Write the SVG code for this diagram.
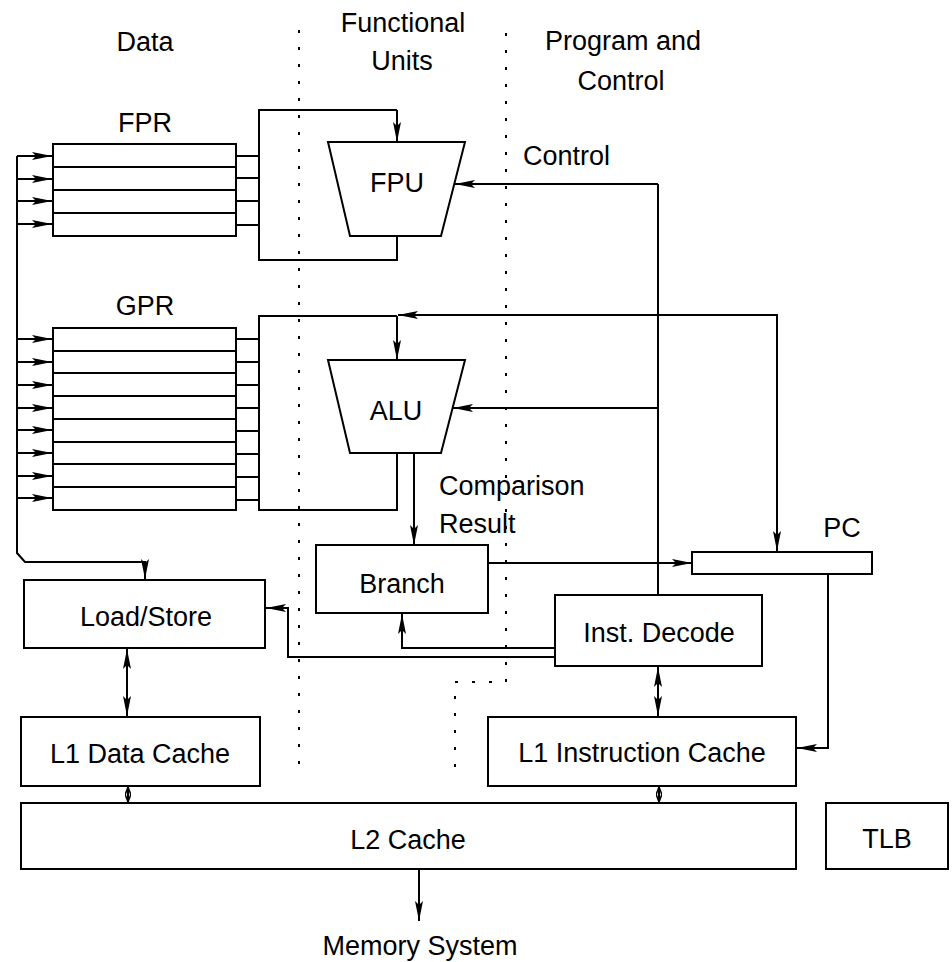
<svg xmlns="http://www.w3.org/2000/svg" width="952" height="962" viewBox="0 0 952 962">
<style>
text{font-family:"Liberation Sans",Arial,sans-serif;font-size:27px;fill:#000}
.c{text-anchor:middle}
.box{fill:#fff;stroke:#000;stroke-width:2}
.ln{fill:none;stroke:#000;stroke-width:2}
.dot{fill:none;stroke:#000;stroke-width:2;stroke-dasharray:3 14}
.a{marker-end:url(#ah)}
.aa{marker-start:url(#ah);marker-end:url(#ah)}
.ss{marker-start:url(#as);marker-end:url(#as)}
</style>
<defs>
<marker id="ah" viewBox="0 0 20 8" refX="20" refY="4" markerWidth="20" markerHeight="8" markerUnits="userSpaceOnUse" orient="auto-start-reverse"><path d="M0,0 L20,4 L0,8 L4,4 z" fill="#000"/></marker>
<marker id="as" viewBox="0 0 8 6" refX="8" refY="3" markerWidth="8" markerHeight="6" markerUnits="userSpaceOnUse" orient="auto-start-reverse"><path d="M0,0 L8,3 L0,6" fill="none" stroke="#000" stroke-width="1.5"/></marker>
</defs>
<rect width="952" height="962" fill="#fff"/>

<g id="column-dividers">
<path class="dot" d="M299,30 V778"/>
<path class="dot" d="M506,33 V682 H455 V778"/>
</g>

<g id="headers">
<text class="c" x="145" y="51">Data</text>
<text class="c" x="403" y="32">Functional</text>
<text class="c" x="402" y="70">Units</text>
<text class="c" x="623" y="50">Program and</text>
<text class="c" x="621" y="90">Control</text>
</g>

<g id="connectors">
<!-- register bus -->
<path class="ln a" d="M17,156 V553 L25,562 H145 V579"/>
<path class="ln a" d="M17,156 H52"/>
<path class="ln a" d="M17,179 H52"/>
<path class="ln a" d="M17,201 H52"/>
<path class="ln a" d="M17,224 H52"/>
<path class="ln a" d="M17,339 H52"/>
<path class="ln a" d="M17,362 H52"/>
<path class="ln a" d="M17,385 H52"/>
<path class="ln a" d="M17,408 H52"/>
<path class="ln a" d="M17,430 H52"/>
<path class="ln a" d="M17,453 H52"/>
<path class="ln a" d="M17,476 H52"/>
<path class="ln a" d="M17,498 H52"/>
<!-- FPR stubs and FPU wiring -->
<path class="ln" d="M236,156 H259 M236,178 H259 M236,201 H259 M236,225 H259"/>
<path class="ln" d="M397,236 V260 H259 V110 H397"/>
<path class="ln a" d="M397,110 V142"/>
<!-- GPR stubs and ALU wiring -->
<path class="ln" d="M236,339 H259 M236,362 H259 M236,385 H259 M236,408 H259 M236,431 H259 M236,454 H259 M236,477 H259 M236,500 H259"/>
<path class="ln" d="M397,453 V510 H259 V316 H397"/>
<path class="ln a" d="M397,316 V360"/>
<!-- PC feedback -->
<path class="ln aa" d="M398,315 H777 V551"/>
<!-- control -->
<path class="ln" d="M658,595 V184"/>
<path class="ln a" d="M658,184 H455"/>
<path class="ln a" d="M658,408 H453"/>
<!-- comparison result -->
<path class="ln a" d="M414,453 V545"/>
<!-- branch to PC -->
<path class="ln a" d="M488,563 H692"/>
<!-- inst decode to branch -->
<path class="ln a" d="M555,648 H402 V614"/>
<!-- inst decode to load/store -->
<path class="ln a" d="M555,657 H288 V608 H266"/>
<!-- PC to L1 I-cache -->
<path class="ln a" d="M828,574 V748 H797"/>
<!-- load/store <-> L1 data -->
<path class="ln aa" d="M127,649 V716"/>
<!-- inst decode <-> L1 instr -->
<path class="ln aa" d="M658,667 V716"/>
<!-- L1 <-> L2 -->
<path class="ln ss" d="M128,787 V802"/>
<path class="ln ss" d="M659,787 V802"/>
<!-- L2 to memory -->
<path class="ln a" d="M419,869 V921"/>
</g>

<g id="fpr">
<text class="c" x="145" y="132">FPR</text>
<rect class="box" x="53" y="144" width="183" height="92"/>
<path class="ln" d="M53,167 H236 M53,190 H236 M53,213 H236"/>
</g>

<g id="gpr">
<text class="c" x="145" y="315">GPR</text>
<rect class="box" x="53" y="328" width="183" height="182"/>
<path class="ln" d="M53,351 H236 M53,373 H236 M53,396 H236 M53,419 H236 M53,442 H236 M53,464 H236 M53,487 H236"/>
</g>

<g id="fpu">
<polygon class="box" points="328,142 465,142 441,236 350,236"/>
<text class="c" x="397" y="192">FPU</text>
</g>

<g id="control-label">
<text x="523" y="165">Control</text>
</g>

<g id="alu">
<polygon class="box" points="328,360 465,360 441,453 350,453"/>
<text class="c" x="396" y="420">ALU</text>
</g>

<g id="comparison-label">
<text x="439" y="495">Comparison</text>
<text x="439" y="533">Result</text>
</g>

<g id="branch">
<rect class="box" x="316" y="545" width="172" height="68"/>
<text class="c" x="402" y="593">Branch</text>
</g>

<g id="pc">
<text class="c" x="842" y="537">PC</text>
<rect class="box" x="692" y="552" width="180" height="22"/>
</g>

<g id="inst-decode">
<rect class="box" x="555" y="595" width="207" height="71"/>
<text class="c" x="659" y="642">Inst. Decode</text>
</g>

<g id="load-store">
<rect class="box" x="24" y="580" width="241" height="68"/>
<text class="c" x="146" y="626">Load/Store</text>
</g>

<g id="l1-data-cache">
<rect class="box" x="21" y="717" width="239" height="69"/>
<text class="c" x="140" y="763">L1 Data Cache</text>
</g>

<g id="l1-instruction-cache">
<rect class="box" x="488" y="717" width="308" height="69"/>
<text class="c" x="642" y="762">L1 Instruction Cache</text>
</g>

<g id="l2-cache">
<rect class="box" x="21" y="803" width="775" height="66"/>
<text class="c" x="408" y="849">L2 Cache</text>
</g>

<g id="tlb">
<rect class="box" x="826" y="803" width="122" height="66"/>
<text class="c" x="887" y="848">TLB</text>
</g>

<g id="memory-system">
<text class="c" x="420" y="955">Memory System</text>
</g>
</svg>
